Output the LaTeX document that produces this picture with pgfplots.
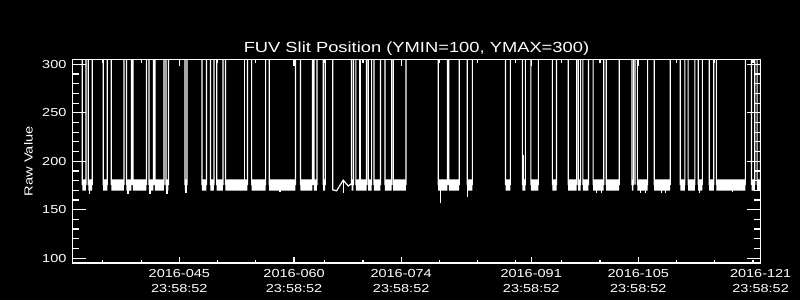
\documentclass[border=0pt]{standalone}
\usepackage{fontspec}
\setmainfont{Liberation Sans}[FakeStretch=1.25]
\usepackage{pgfplots}
\pgfplotsset{compat=1.18}
\pgfplotsset{
  idl/.style={
    scale only axis, width=516.3pt, height=152.6pt,
    at={(54.2pt,27.75pt)}, anchor=south west,
    xmin=31, xmax=121, ymin=95, ymax=305,
    axis line style={white, line width=0.9pt},
    tick style={white, line width=0.9pt},
    tick align=inside,
    /pgf/number format/assume math mode=true,
    tick label style={white, font=\fontsize{8.7}{11.25}\selectfont},
  }
}
\begin{document}
\begin{tikzpicture}
\fill[black] (0pt,0pt) rectangle (600pt,225pt);
\begin{axis}[idl,
  xtick={45,60,74,91,105,121},
  xticklabels={{2016-045\\23:58:52},{2016-060\\23:58:52},{2016-074\\23:58:52},{2016-091\\23:58:52},{2016-105\\23:58:52},{2016-121\\23:58:52}},
  minor xtick={35,40,50,55,64,69,79,84,89,95,100,110,115,120},
  ytick=\empty,
  major tick length=4.5pt, minor tick length=2.4pt,
  xticklabel style={align=center, anchor=north, inner sep=0pt, yshift=-4.7pt},
  title={FUV Slit Position (YMIN=100, YMAX=300)},
  every axis title/.style={at={(axis description cs:0.5,1)}, anchor=base, yshift=5.1pt, white, font=\fontsize{11}{13}\selectfont},
  ylabel={Raw Value},
  every axis y label/.style={at={(axis description cs:-0.0575,0.5)}, rotate=90, anchor=base, white, font=\fontsize{8.8}{10}\selectfont},
]
% white bands of dense data (about 170 to 181)
\addplot[draw=none, fill=white, unbounded coords=jump] coordinates {
(32.31,169.7)(32.31,181.4)(32.79,181.4)(32.79,169.7)(32.8,nan)
(33.09,169.7)(33.09,181.4)(33.61,181.4)(33.61,169.7)(33.7,nan)
(35.05,169.7)(35.05,181.4)(35.58,181.4)(35.58,169.7)(35.6,nan)
(36.10,169.7)(36.10,181.4)(37.76,181.4)(37.76,169.7)(37.8,nan)
(38.08,169.7)(38.08,181.4)(38.74,181.4)(38.74,169.7)(38.8,nan)
(38.93,169.7)(38.93,181.4)(40.70,181.4)(40.70,169.7)(40.8,nan)
(41.03,169.7)(41.03,181.4)(41.61,181.4)(41.61,169.7)(41.7,nan)
(41.81,169.7)(41.81,181.4)(42.99,181.4)(42.99,169.7)(43.0,nan)
(43.25,169.7)(43.25,181.4)(43.58,181.4)(43.58,169.7)(43.6,nan)
(45.73,169.7)(45.73,181.4)(45.99,181.4)(45.99,169.7)(46.0,nan)
(47.95,169.7)(47.95,181.4)(48.54,181.4)(48.54,169.7)(48.6,nan)
(49.07,169.7)(49.07,181.4)(49.52,181.4)(49.52,169.7)(49.6,nan)
(49.88,169.7)(49.88,181.4)(50.70,181.4)(50.70,169.7)(50.8,nan)
(51.03,169.7)(51.03,181.4)(53.90,181.4)(53.90,169.7)(54.0,nan)
(54.45,169.7)(54.45,181.4)(56.28,181.4)(56.28,169.7)(56.3,nan)
(56.75,169.7)(56.75,181.4)(60.18,181.4)(60.18,169.7)(60.2,nan)
(60.83,169.7)(60.83,181.4)(62.40,181.4)(62.40,169.7)(62.5,nan)
(62.60,169.7)(62.60,181.4)(62.99,181.4)(62.99,169.7)(63.0,nan)
(63.81,169.7)(63.81,181.4)(64.07,181.4)(64.07,169.7)(64.1,nan)
(67.52,169.7)(67.52,181.4)(67.76,181.4)(67.76,169.7)(67.8,nan)
(68.08,169.7)(68.08,181.4)(69.48,181.4)(69.48,169.7)(69.5,nan)
(69.69,169.7)(69.69,181.4)(70.14,181.4)(70.14,169.7)(70.2,nan)
(70.44,169.7)(70.44,181.4)(71.29,181.4)(71.29,169.7)(71.3,nan)
(71.88,169.7)(71.88,181.4)(72.75,181.4)(72.75,169.7)(72.8,nan)
(72.96,169.7)(72.96,181.4)(74.62,181.4)(74.62,169.7)(74.7,nan)
(78.84,169.7)(78.84,181.4)(80.05,181.4)(80.05,169.7)(80.1,nan)
(80.24,169.7)(80.24,181.4)(81.59,181.4)(81.59,169.7)(81.6,nan)
(82.63,169.7)(82.63,181.4)(83.31,181.4)(83.31,169.7)(83.4,nan)
(87.65,169.7)(87.65,181.4)(88.28,181.4)(88.28,169.7)(88.3,nan)
(89.85,169.7)(89.85,181.4)(90.24,181.4)(90.24,169.7)(90.3,nan)
(90.96,169.7)(90.96,181.4)(91.94,181.4)(91.94,169.7)(92.0,nan)
(93.77,169.7)(93.77,181.4)(94.32,181.4)(94.32,169.7)(94.4,nan)
(95.84,169.7)(95.84,181.4)(96.94,181.4)(96.94,169.7)(97.0,nan)
(97.14,169.7)(97.14,181.4)(97.46,181.4)(97.46,169.7)(97.5,nan)
(97.76,169.7)(97.76,181.4)(98.48,181.4)(98.48,169.7)(98.5,nan)
(99.10,169.7)(99.10,181.4)(100.48,181.4)(100.48,169.7)(100.5,nan)
(100.80,169.7)(100.80,181.4)(102.50,181.4)(102.50,169.7)(102.6,nan)
(104.16,169.7)(104.16,181.4)(104.36,181.4)(104.36,169.7)(104.4,nan)
(104.88,169.7)(104.88,181.4)(106.22,181.4)(106.22,169.7)(106.3,nan)
(107.08,169.7)(107.08,181.4)(109.17,181.4)(109.17,169.7)(109.2,nan)
(110.50,169.7)(110.50,181.4)(111.09,181.4)(111.09,169.7)(111.1,nan)
(111.52,169.7)(111.52,181.4)(112.40,181.4)(112.40,169.7)(112.5,nan)
(112.83,169.7)(112.83,181.4)(113.38,181.4)(113.38,169.7)(113.4,nan)
(114.27,169.7)(114.27,181.4)(114.88,181.4)(114.88,169.7)(114.9,nan)
(115.21,169.7)(115.21,181.4)(119.00,181.4)(119.00,169.7)(119.1,nan)
(119.81,169.7)(119.81,181.4)(120.24,181.4)(120.24,169.7)(120.3,nan)
(120.54,169.7)(120.54,181.4)(120.96,181.4)(120.96,169.7)
};
% the trace: jumps to the off-scale position between the bands
\addplot[white, line width=0.9pt] coordinates {
(32.31,330)(32.31,176)(32.79,176)(32.79,330)
(33.09,330)(33.09,176)(33.61,176)(33.61,330)
(35.05,330)(35.05,176)(35.58,176)(35.58,330)
(36.10,330)(36.10,176)(37.76,176)(37.76,330)
(38.08,330)(38.08,176)(38.74,176)(38.74,330)
(38.93,330)(38.93,176)(40.70,176)(40.70,330)
(41.03,330)(41.03,176)(41.61,176)(41.61,330)
(41.81,330)(41.81,176)(42.99,176)(42.99,330)
(43.25,330)(43.25,176)(43.58,176)(43.58,330)
(45.73,330)(45.73,176)(45.99,176)(45.99,330)
(47.95,330)(47.95,176)(48.54,176)(48.54,330)
(49.07,330)(49.07,176)(49.52,176)(49.52,330)
(49.88,330)(49.88,176)(50.70,176)(50.70,330)
(51.03,330)(51.03,176)(53.90,176)(53.90,330)
(54.45,330)(54.45,176)(56.28,176)(56.28,330)
(56.75,330)(56.75,176)(60.18,176)(60.18,330)
(60.83,330)(60.83,176)(62.40,176)(62.40,330)
(62.60,330)(62.60,176)(62.99,176)(62.99,330)
(63.81,330)(63.81,176)(64.07,176)(64.07,330)
(65.05,330)(65.05,170.5)(65.56,169.5)(66.42,180.5)(67.08,174.5)(67.52,177)(67.52,330)
(67.52,330)(67.52,176)(67.76,176)(67.76,330)
(68.08,330)(68.08,176)(69.48,176)(69.48,330)
(69.69,330)(69.69,176)(70.14,176)(70.14,330)
(70.44,330)(70.44,176)(71.29,176)(71.29,330)
(71.88,330)(71.88,176)(72.75,176)(72.75,330)
(72.96,330)(72.96,176)(74.62,176)(74.62,330)
(78.84,330)(78.84,176)(80.05,176)(80.05,330)
(80.24,330)(80.24,176)(81.59,176)(81.59,330)
(82.63,330)(82.63,176)(83.31,176)(83.31,330)
(87.65,330)(87.65,176)(88.28,176)(88.28,330)
(89.85,330)(89.85,176)(90.24,176)(90.24,330)
(90.96,330)(90.96,176)(91.94,176)(91.94,330)
(93.77,330)(93.77,176)(94.32,176)(94.32,330)
(95.84,330)(95.84,176)(96.94,176)(96.94,330)
(97.14,330)(97.14,176)(97.46,176)(97.46,330)
(97.76,330)(97.76,176)(98.48,176)(98.48,330)
(99.10,330)(99.10,176)(100.48,176)(100.48,330)
(100.80,330)(100.80,176)(102.50,176)(102.50,330)
(104.16,330)(104.16,176)(104.36,176)(104.36,330)
(104.56,330)(104.56,176)(104.56,330)
(104.88,330)(104.88,176)(106.22,176)(106.22,330)
(107.08,330)(107.08,176)(109.17,176)(109.17,330)
(110.50,330)(110.50,176)(111.09,176)(111.09,330)
(111.52,330)(111.52,176)(112.40,176)(112.40,330)
(112.83,330)(112.83,176)(113.38,176)(113.38,330)
(114.27,330)(114.27,176)(114.88,176)(114.88,330)
(115.21,330)(115.21,176)(119.00,176)(119.00,330)
(119.81,330)(119.81,176)(120.24,176)(120.24,330)
(120.54,330)(120.54,176)(120.96,176)(120.96,330)
};
% isolated spikes and dips
\addplot[white, line width=0.9pt, unbounded coords=jump] coordinates {
(53.48,176)(53.48,330)(53.5,nan)
(68.61,176)(68.61,330)(68.7,nan)
(89.96,176)(89.96,206)(90.0,nan)
(66.42,181)(66.42,167.6)(66.5,nan)
(33.25,172)(33.25,166.3)(33.3,nan)
(38.28,172)(38.28,166.5)(38.3,nan)
(41.16,172)(41.16,166.5)(41.2,nan)
(43.38,172)(43.38,166.0)(43.4,nan)
(45.86,172)(45.86,167.0)(45.9,nan)
(58.15,172)(58.15,168.3)(58.2,nan)
(79.16,172)(79.16,157.0)(79.2,nan)
(82.63,172)(82.63,163.5)(82.7,nan)
(99.50,172)(99.50,167.0)(99.6,nan)
(100.20,172)(100.20,167.0)(100.3,nan)
(105.30,172)(105.30,167.0)(105.4,nan)
(105.90,172)(105.90,167.5)(106.0,nan)
(108.00,172)(108.00,167.0)(108.1,nan)
(108.60,172)(108.60,167.0)(108.7,nan)
(113.00,172)(113.00,167.5)(113.1,nan)
(117.30,172)(117.30,168.0)
};
\end{axis}
\begin{axis}[idl,
  xtick=\empty,
  ytick={100,150,200,250,300},
  minor ytick={110,120,130,140,160,170,180,190,210,220,230,240,260,270,280,290},
  major tick length=10pt, minor tick length=5pt,
  yticklabel style={anchor=east, inner sep=0pt, xshift=-4.2pt},
]
\end{axis}
\end{tikzpicture}
\end{document}
